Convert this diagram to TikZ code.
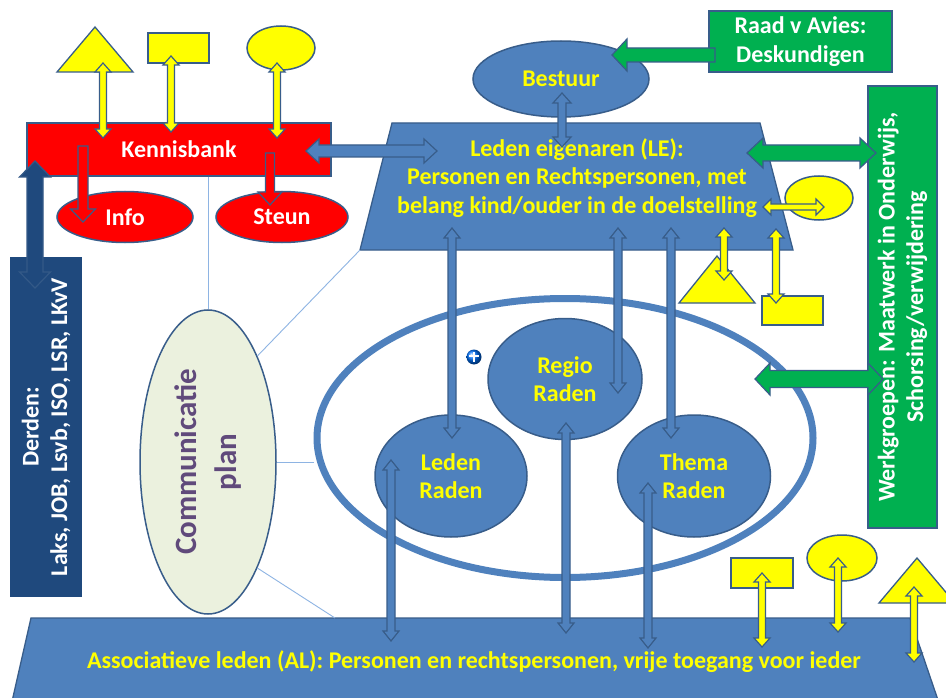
\documentclass[tikz,border=0pt]{standalone}
\usepackage{fontspec}
\setmainfont{Carlito}
\usetikzlibrary{shapes.geometric,calc}
\definecolor{sb}{HTML}{4F81BD}
\definecolor{ol}{HTML}{385D8A}
\definecolor{gr}{HTML}{00B050}
\definecolor{nv}{HTML}{1F497D}
\definecolor{yl}{HTML}{FFFF00}
\definecolor{rd}{HTML}{FF0000}
\definecolor{cm}{HTML}{EBF1DE}
\definecolor{pp}{HTML}{604A7B}
\definecolor{ln}{HTML}{8EB4E3}
\newcommand\getends[2]{\path (#1); \pgfgetlastxy{\ax}{\ay}\path (#2); \pgfgetlastxy{\bx}{\by}%
 \pgfmathsetmacro\ang{atan2((\by)-(\ay),(\bx)-(\ax))}%
 \pgfmathsetmacro\len{veclen((\bx)-(\ax),(\by)-(\ay))}}
% double block arrow: [style]{from}{to}{shaft half}{head half}{head length}
\newcommand\dblk[6][]{\getends{#2}{#3}\filldraw[blk,#1,shift={(\ax,\ay)},rotate=\ang,x=1pt,y=1pt]
 (0,0)--(#6,#5)--(#6,#4)--({\len-#6},#4)--({\len-#6},#5)--(\len,0)--({\len-#6},-#5)--({\len-#6},-#4)--(#6,-#4)--(#6,-#5)--cycle;}
% single block arrow
\newcommand\sblk[6][]{\getends{#2}{#3}\filldraw[blk,#1,shift={(\ax,\ay)},rotate=\ang,x=1pt,y=1pt]
 (0,#4)--({\len-#6},#4)--({\len-#6},#5)--(\len,0)--({\len-#6},-#5)--({\len-#6},-#4)--(0,-#4)--cycle;}
\tikzset{
 blk/.style={draw=ol,line width=1.2pt,line join=miter},
 txt/.style={font=\bfseries\fontsize{24}{28.5}\selectfont,align=center},
 box/.style={rectangle,draw=ol,line width=1.3pt,inner sep=0pt},
 ell/.style={ellipse,draw=ol,line width=1.5pt,inner sep=0pt},
 ybox/.style={box,fill=yl},
 yell/.style={ell,fill=yl},
 ytri/.style={draw=ol,fill=yl,line width=1.3pt,line join=miter},
 thinln/.style={draw=ln,line width=0.9pt},
}
\begin{document}
\begin{tikzpicture}[x=1pt,y=-1pt]
\useasboundingbox (0,0) rectangle (946,698);
\fill[white] (0,0) rectangle (946,698);
% ---- big shapes
\draw[fill=sb,draw=ol,line width=1.3pt] (31,618) -- (910,618) -- (940,706) -- (11,706) -- cycle;
\coordinate (al-top) at (335,618);
\node[txt,text=yl] (al) at (474,662) {Associatieve leden (AL): Personen en rechtspersonen, vrije toegang voor ieder};
\draw[fill=sb,draw=ol,line width=1.3pt] (392,123) -- (760,123) -- (793,250) -- (360,250) -- cycle;
\coordinate (le-bl) at (360,250);
\node[txt,text=yl] (le) at (577,178) {Leden eigenaren (LE):\\Personen en Rechtspersonen, met\\belang kind/ouder in de doelstelling};
\node[ellipse,draw=sb,line width=7pt,minimum width=496pt,minimum height=279pt,inner sep=0pt] (ring) at (565,438) {};
\node[ell,fill=sb,minimum width=154pt,minimum height=121pt,txt,text=yl] (regio) at (565,379) {Regio\\Raden};
\node[ell,fill=sb,minimum width=152pt,minimum height=122pt,txt,text=yl] (leden) at (451,476) {Leden\\Raden};
\node[ell,fill=sb,minimum width=153pt,minimum height=122pt,txt,text=yl] (thema) at (694,476) {Thema\\Raden};
\node[ell,fill=sb,minimum width=176pt,minimum height=76pt,txt,text=yl] (bestuur) at (561,79) {Bestuur};
\node[box,fill=rd,minimum width=304pt,minimum height=53pt,txt,text=white] (kb) at (179,149.5) {Kennisbank};
\node[ell,fill=rd,minimum width=136pt,minimum height=51pt,txt,text=white] (info) at (125,217) {Info};
\node[ell,fill=rd,minimum width=132pt,minimum height=51pt,txt,text=white] (steun) at (282,217) {Steun};
\node[box,fill=gr,minimum width=183pt,minimum height=61pt,txt,text=white] (raad) at (800.5,41.5) {Raad v Avies:\\Deskundigen};
\node[box,fill=gr,rotate=90,minimum width=442pt,minimum height=69pt,txt,text=white] (wg) at (902.5,307) {Werkgroepen: Maatwerk in Onderwijs,\\Schorsing/verwijdering};
\node[box,fill=nv,draw=nv,rotate=90,minimum width=338pt,minimum height=70pt,txt,text=white] (derden) at (46,427) {Derden:\\Laks, JOB, Lsvb, ISO, LSR, LKvV};
\node[ell,fill=cm,minimum width=136pt,minimum height=304pt] (comm) at (208,462) {};
\node[rotate=90,font=\bfseries\fontsize{31}{40}\selectfont,align=center,text=pp] (commtxt) at (comm.center) {Communicatie\\plan};
% ---- yellow shapes
\draw[ytri] (95,27) -- (133,72) -- (57,72) -- cycle;
\node[ybox,minimum width=61pt,minimum height=30pt] (yrect1) at (178.5,48) {};
\node[yell,minimum width=68pt,minimum height=44pt] (yell1) at (281,48) {};
\node[yell,minimum width=68pt,minimum height=44pt] (yell2) at (819,198) {};
\draw[ytri] (717,256) -- (755,303) -- (679,303) -- cycle;
\node[ybox,minimum width=61pt,minimum height=29pt] (yrect2) at (792.5,310.5) {};
\node[ybox,minimum width=62pt,minimum height=30pt] (yrect3) at (762,573) {};
\node[yell,minimum width=70pt,minimum height=46pt] (yell3) at (842,558) {};
\draw[ytri] (917,558) -- (955,603) -- (879,603) -- cycle;
% ---- globe icon
\node[circle,minimum size=15pt,inner sep=0pt,shading=ball,ball color=blue!55!cyan] (globe) at (474,357) {};
\draw[white,line width=1.3pt] ($(globe.center)+(0,-5)$) -- ($(globe.center)+(0,5)$);
\draw[white,line width=1.3pt] ($(globe.center)+(-5,-1)$) -- ($(globe.center)+(5,-1)$);
% ---- thin lines
\draw[thinln] (kb.south -| comm.north) -- (comm.north);
\draw[thinln] (comm.65) -- (le-bl);
\draw[thinln] (comm.east) -- (comm.east -| ring.west);
\draw[thinln] (comm.-65) -- (al-top);
% ---- arrow end points
\coordinate (y1a) at (103,63);  \coordinate (y1b) at (103,138);
\coordinate (y2a) at (171,56);  \coordinate (y2b) at (171,132);
\coordinate (y3a) at (277,63);  \coordinate (y3b) at (277,138);
\coordinate (r1a) at (83,146);  \coordinate (r1b) at (83,222);
\coordinate (r2a) at (270,153); \coordinate (r2b) at (270,205);
\coordinate (kbl) at (306,151); \coordinate (kbr) at (437,151);
\coordinate (ba) at (562,93);   \coordinate (bb) at (562,147);
\coordinate (ga) at (715,55);   \coordinate (gb) at (612,55);
\coordinate (g2a) at (747,153); \coordinate (g2b) at (876,153);
\coordinate (g3a) at (755,379); \coordinate (g3b) at (883,379);
\coordinate (y4a) at (763,207); \coordinate (y4b) at (824,207);
\coordinate (y5a) at (724,228); \coordinate (y5b) at (724,280);
\coordinate (y6a) at (776,229); \coordinate (y6b) at (776,303);
\coordinate (b1a) at (452,228); \coordinate (b1b) at (452,438);
\coordinate (b2a) at (618,228); \coordinate (b2b) at (618,393);
\coordinate (b3a) at (671,228); \coordinate (b3b) at (671,438);
\coordinate (b4a) at (391,460); \coordinate (b4b) at (391,641);
\coordinate (b5a) at (566,423); \coordinate (b5b) at (566,633);
\coordinate (b6a) at (648,483); \coordinate (b6b) at (648,648);
\coordinate (y7a) at (762,573); \coordinate (y7b) at (762,647);
\coordinate (y8a) at (838,558); \coordinate (y8b) at (838,632);
\coordinate (y9a) at (914,587); \coordinate (y9b) at (914,662);
\coordinate (na) at (35,161);   \coordinate (nb) at (35,288);
% ---- block arrows
\dblk[fill=yl]{y1a}{y1b}{3.5}{8}{9}
\dblk[fill=yl]{y2a}{y2b}{3.5}{8}{9}
\dblk[fill=yl]{y3a}{y3b}{3.5}{8}{9}
\sblk[fill=rd]{r1a}{r1b}{5}{12.5}{13}
\sblk[fill=rd]{r2a}{r2b}{4.5}{12}{13}
\dblk[fill=sb]{kbl}{kbr}{6}{12}{13}
\dblk[fill=sb]{ba}{bb}{4}{9}{10}
\sblk[fill=gr]{ga}{gb}{7}{16}{15}
\dblk[fill=gr]{g2a}{g2b}{8}{15}{16}
\dblk[fill=gr]{g3a}{g3b}{8.5}{16}{15}
\dblk[fill=yl]{y4a}{y4b}{3}{8}{8}
\dblk[fill=yl]{y5a}{y5b}{3.5}{8}{9}
\dblk[fill=yl]{y6a}{y6b}{3.5}{8}{9}
\dblk[fill=sb]{b1a}{b1b}{4}{8}{10}
\dblk[fill=sb]{b2a}{b2b}{4}{8}{10}
\dblk[fill=sb]{b3a}{b3b}{4}{8}{10}
\dblk[fill=sb]{b4a}{b4b}{4}{8}{10}
\dblk[fill=sb]{b5a}{b5b}{4}{8}{10}
\dblk[fill=sb]{b6a}{b6b}{4}{8}{10}
\dblk[fill=yl]{y7a}{y7b}{3.5}{8}{9}
\dblk[fill=yl]{y8a}{y8b}{3.5}{8}{9}
\dblk[fill=yl]{y9a}{y9b}{3.5}{8}{9}
\dblk[fill=nv,draw=ol!80!nv]{na}{nb}{8}{15.5}{16}
\end{tikzpicture}
\end{document}
